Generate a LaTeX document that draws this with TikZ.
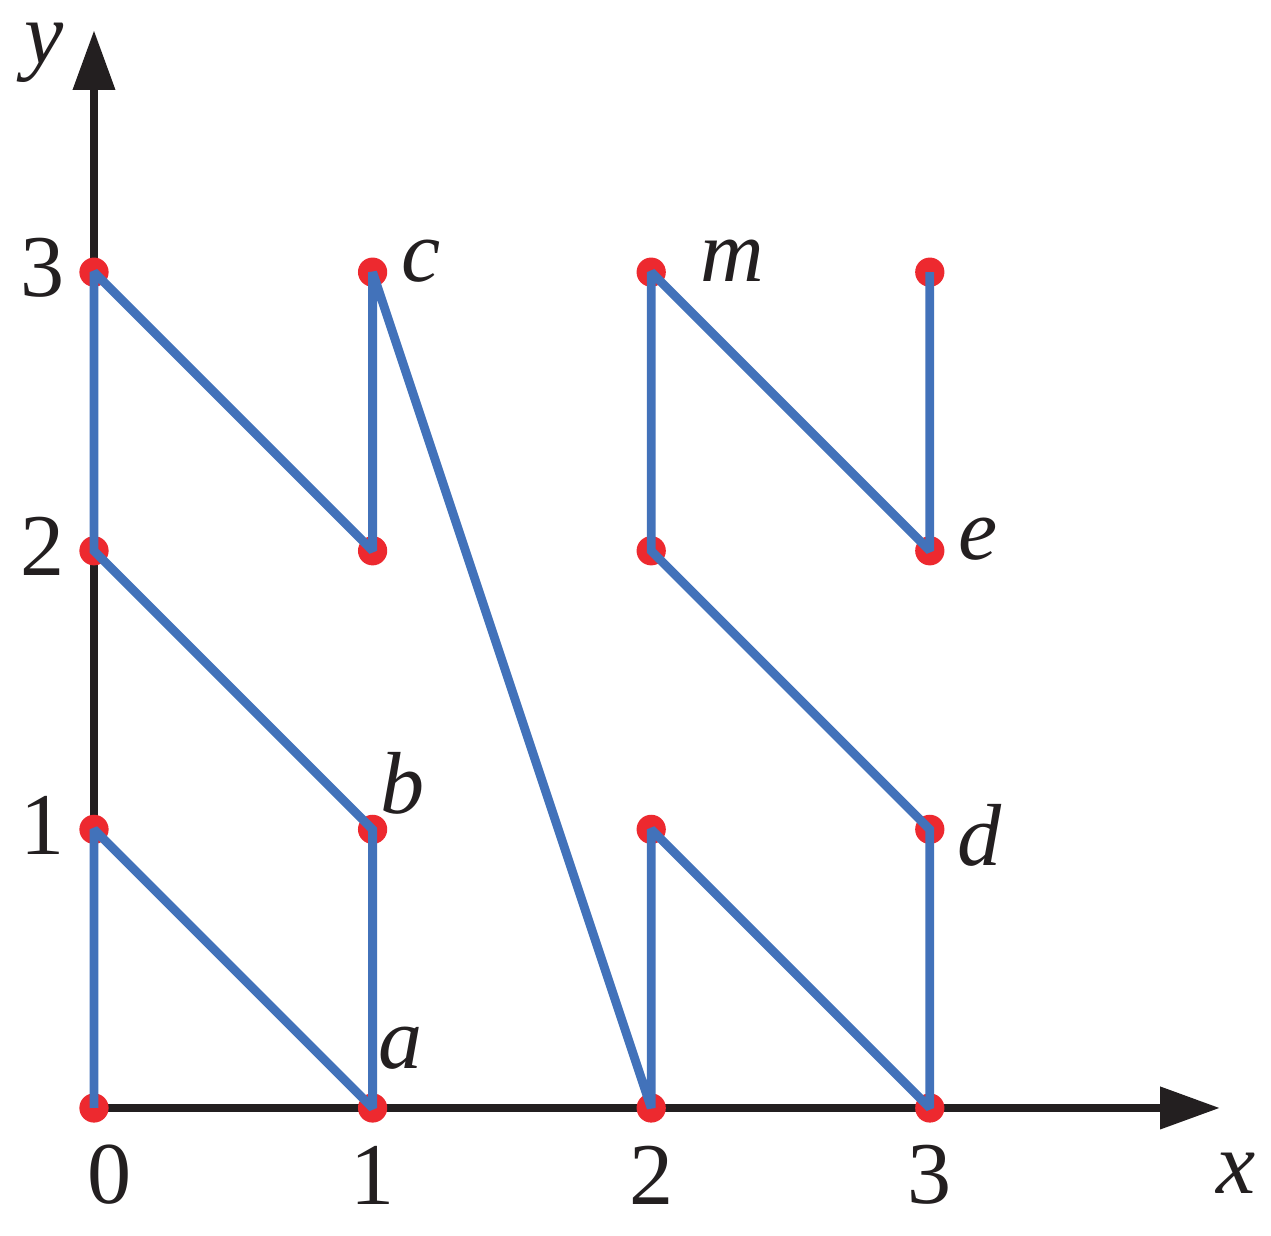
\documentclass[tikz,border=0pt]{standalone}
\usepackage{fontspec}
\newfontfamily\timesfont{Liberation Serif}
\usepackage{tikz}
\usetikzlibrary{arrows.meta}

\definecolor{axisblack}{RGB}{35,31,32}
\definecolor{dotred}{RGB}{237,41,47}
\definecolor{routeblue}{RGB}{66,114,186}

\tikzset{
  axis/.style={draw=axisblack, line width=1.8pt, -{Triangle[length=4.3mm, width=2.9mm]}},
  route/.style={draw=routeblue, line width=1.8pt, miter limit=2.5},
  dot/.style={fill=dotred},
  lbl/.style={inner sep=0pt, text=axisblack, font=\timesfont\fontsize{18}{20}\selectfont}
}

\begin{document}
\begin{tikzpicture}[x=2cm, y=2cm]
\useasboundingbox (-0.3374,-0.4594) rectangle (4.2247,3.977);
%% grid points
\foreach \x in {0,1,2,3}
  \foreach \y in {0,1,2,3}
    \coordinate (p\x\y) at (\x,\y);
\coordinate (xend) at (4.042,0);
\coordinate (yend) at (0,3.869);
%% axes
\draw [axis] (p00) -- (xend);
\draw [axis] (p00) -- (yend);
\node [lbl] (xlab) at (4.099,-0.233) {\textit{x}};
\node [lbl] (ylab) at (-0.179,3.787) {\textit{y}};
%% ticks
\node [lbl, xshift=1.08mm, yshift=-4.81mm] (t0) at (p00) {0};
\foreach \x in {1,2,3}
  \node [lbl, yshift=-4.81mm] (t\x) at (p\x0) {\x};
\foreach \y in {1,2,3}
  \node [lbl, xshift=-3.73mm, yshift=0.3mm] (s\y) at (p0\y) {\y};
%% dots
\foreach \x in {0,1,2,3}
  \foreach \y in {0,1,2,3}
    \fill [dot] (p\x\y) circle (1.05mm);
%% route
\draw [route] (p00) -- (p01) -- (p10) -- (p11) -- (p02) -- (p03) -- (p12) -- (p13)
  -- (p20) -- (p21) -- (p30) -- (p31) -- (p22) -- (p23) -- (p32) -- (p33);
%% point names
\node [lbl] (a) at (1.102,0.215) {\textit{a}};
\node [lbl] (b) at (1.106,1.166) {\textit{b}};
\node [lbl] (c) at (1.174,3.04) {\textit{c}};
\node [lbl] (m) at (2.29,3.04) {\textit{m}};
\node [lbl] (e) at (3.173,2.042) {\textit{e}};
\node [lbl] (d) at (3.18,0.98) {\textit{d}};
\end{tikzpicture}
\end{document}
